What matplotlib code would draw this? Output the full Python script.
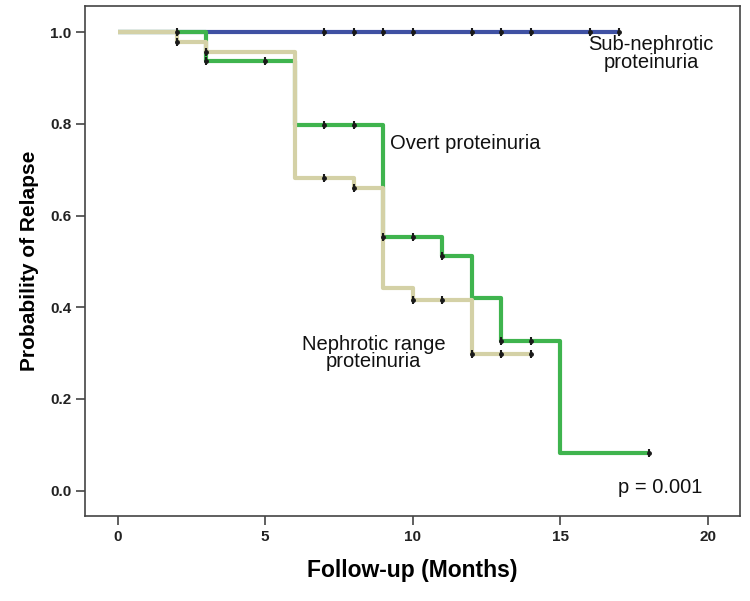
import matplotlib
matplotlib.use('Agg')
import matplotlib.pyplot as plt

plt.rcParams['font.family'] = ['Liberation Sans', 'DejaVu Sans']

# Kaplan-Meier steps (months, probability)
sub_t = [0, 17]
sub_s = [1.0, 1.0]
sub_cens_t = [7, 8, 9, 10, 12, 13, 14, 16, 17]
sub_cens_s = [1.0, 1.0, 1.0, 1.0, 1.0, 1.0, 1.0, 1.0, 1.0]

overt_t = [0, 3, 6, 9, 11, 12, 13, 15, 18]
overt_s = [1.0, 0.938, 0.797, 0.553, 0.512, 0.420, 0.327, 0.082, 0.082]
overt_cens_t = [2, 3, 5, 7, 8, 9, 10, 11, 13, 14, 18]
overt_cens_s = [1.0, 0.938, 0.938, 0.797, 0.797, 0.553, 0.553, 0.512, 0.327, 0.327, 0.082]

neph_t = [0, 2, 3, 6, 8, 9, 10, 12, 14]
neph_s = [1.0, 0.978, 0.956, 0.682, 0.660, 0.441, 0.416, 0.297, 0.297]
neph_cens_t = [2, 3, 7, 8, 10, 11, 12, 13, 14]
neph_cens_s = [0.978, 0.956, 0.682, 0.660, 0.416, 0.416, 0.297, 0.297, 0.297]

blue = '#3f51a3'
green = '#3fb44e'
tan = '#d4d1a6'
axcol = '#444444'

fig = plt.figure(figsize=(7.5, 6.01), dpi=100)
ax = fig.add_axes([0.1137, 0.141, 0.873, 0.849])

ax.step(sub_t, sub_s, where='post', color=blue, lw=3, solid_capstyle='butt', zorder=2)
ax.step(overt_t, overt_s, where='post', color=green, lw=3, solid_capstyle='butt', zorder=3)
ax.step(neph_t, neph_s, where='post', color=tan, lw=3, solid_capstyle='butt', zorder=4)

for ct, cs in [(sub_cens_t, sub_cens_s), (overt_cens_t, overt_cens_s), (neph_cens_t, neph_cens_s)]:
    ax.plot(ct, cs, ls='none', marker='|', ms=6, mew=1.5, color='#1a1a1a', zorder=5)
    ax.plot(ct, cs, ls='none', marker='o', ms=2.5, color='#1a1a1a', zorder=5)

ax.set_xlim(-1.1, 21.1)
ax.set_ylim(-0.056, 1.057)
ax.set_xticks([0, 5, 10, 15, 20])
ax.set_yticks([0.0, 0.2, 0.4, 0.6, 0.8, 1.0])
ax.set_yticklabels(['0.0', '0.2', '0.4', '0.6', '0.8', '1.0'])

for sp in ax.spines.values():
    sp.set_color(axcol)
    sp.set_linewidth(1.2)
ax.tick_params(direction='out', length=6.5, width=1.2, color=axcol,
               labelsize=11, labelcolor='#222222')
for lbl in ax.get_xticklabels() + ax.get_yticklabels():
    lbl.set_fontweight('bold')

ax.set_xlabel('Follow-up (Months)', fontsize=16.5, fontweight='bold', labelpad=11)
ax.set_ylabel('Probability of Relapse', fontsize=15, fontweight='bold', labelpad=8)

ax.text(18.08, 0.954, 'Sub-nephrotic\nproteinuria', fontsize=14.5, ha='center', va='center',
        linespacing=0.92, color='#111111')
ax.text(9.23, 0.758, 'Overt proteinuria', fontsize=14.5, ha='left', va='center', color='#111111')
ax.text(8.67, 0.300, 'Nephrotic range\nproteinuria', fontsize=14.5, ha='center', va='center',
        linespacing=0.92, color='#111111')
ax.text(16.96, 0.006, 'p = 0.001', fontsize=14.5, ha='left', va='center', color='#111111')

fig.savefig('out.png', dpi=100)
